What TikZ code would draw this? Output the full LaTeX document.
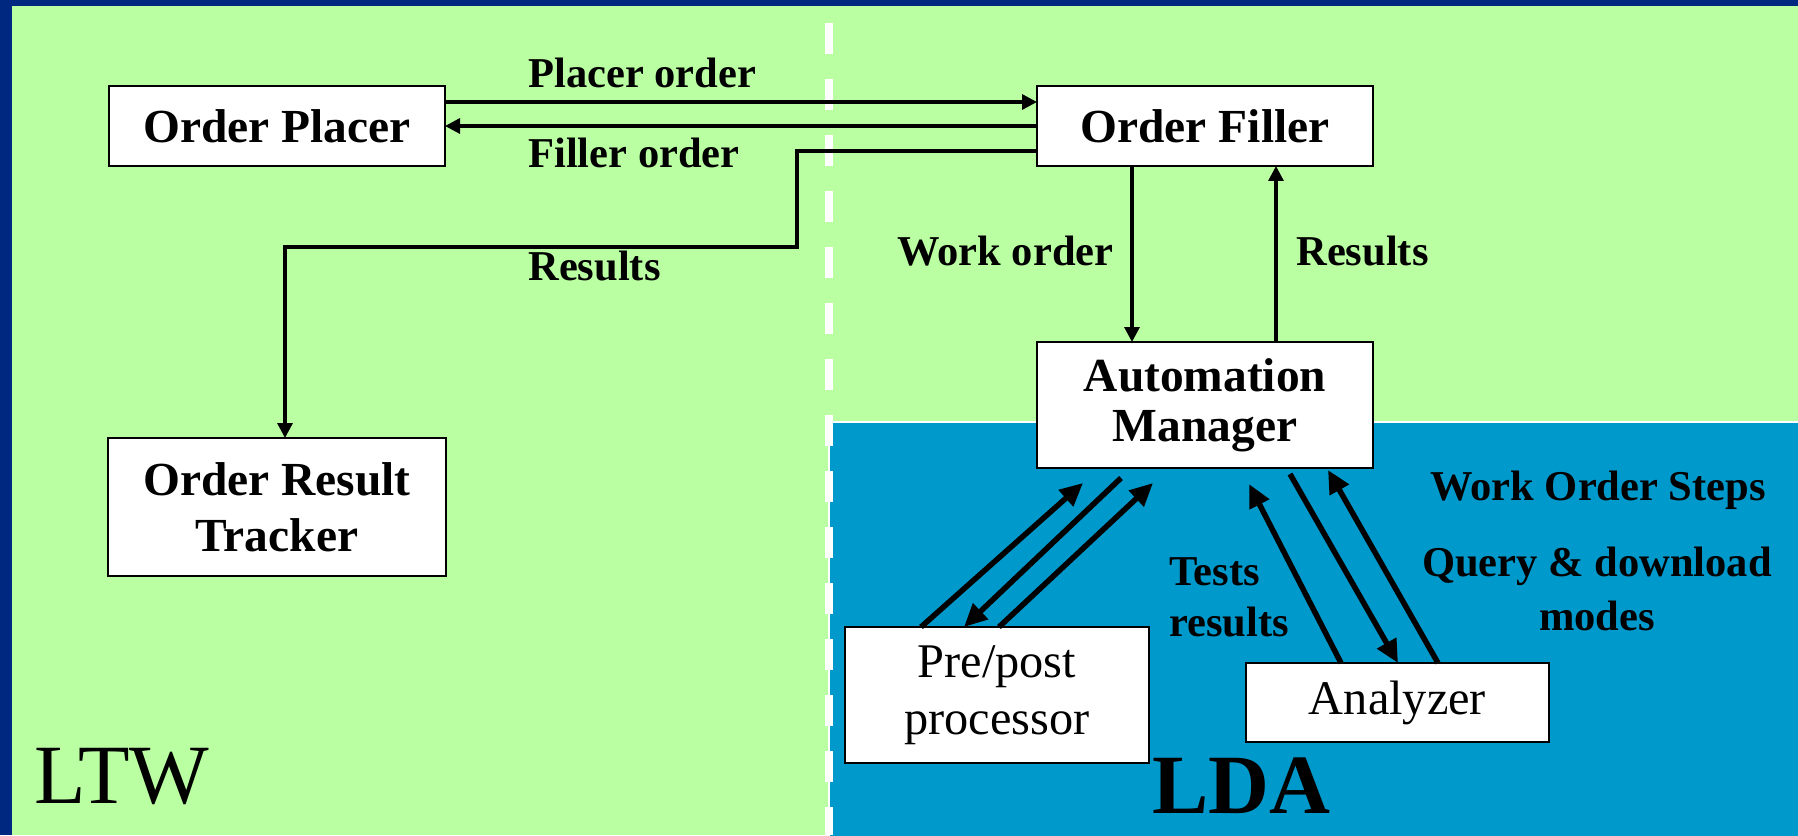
\documentclass[tikz,border=0pt]{standalone}
\usepackage{fontspec}
\setmainfont{Liberation Serif}
\usetikzlibrary{positioning, arrows.meta}

\definecolor{framenavy}{RGB}{0,40,128}
\definecolor{ltwgreen}{RGB}{187,255,163}
\definecolor{ldablue}{RGB}{0,153,204}

\begin{document}
\begin{tikzpicture}[
    box/.style={draw, line width=0.04cm, fill=white, align=center, inner sep=0pt, outer sep=0pt, font=\bfseries\fontsize{27}{32}\selectfont},
    plainbox/.style={box, font=\fontsize{27.5}{32.5}\selectfont},
    arrow/.style={-{Triangle[length=0.3cm, width=0.3cm]}, line width=0.065cm},
    bigarrow/.style={-{Triangle[length=0.46cm, width=0.42cm]}, line width=0.11cm},
    lbl/.style={font=\bfseries\fontsize{24.2}{30}\selectfont, inner sep=0pt, align=left},
    region/.style={font=\fontsize{48}{48}\selectfont, inner sep=0pt, anchor=base west}
]

% Slide frame and the two domains
\clip (0,0) rectangle (35.96,16.70);
\fill[framenavy] (0,0) rectangle (35.96,16.70);
\fill[ltwgreen] (0.24,0) rectangle (35.96,16.58);
\filldraw[fill=ldablue, draw=white, line width=0.04cm] (16.58,-0.2) rectangle (36.2,8.26);
\draw[white, line width=0.16cm, dash pattern=on 0.62cm off 0.5cm] (16.58,16.24) -- (16.58,0);

% Actors
\node[box, minimum width=6.72cm, minimum height=1.6cm] (placer) at (5.54,14.18) {Order Placer};
\node[box, minimum width=6.72cm, minimum height=1.6cm, right=11.84cm of placer] (filler) {Order Filler};
\node[box, minimum width=6.76cm, minimum height=2.76cm, below=5.44cm of placer] (tracker) {Order Result\\Tracker};
\node[box, minimum width=6.72cm, minimum height=2.52cm, below=3.52cm of filler, font=\bfseries\fontsize{27}{28.5}\selectfont] (am) {Automation\\Manager};
\node[plainbox, minimum width=6.08cm, minimum height=2.72cm] (prepost) at (19.94,2.80) {Pre/post\\processor};
\node[plainbox, minimum width=6.06cm, minimum height=1.58cm] (analyzer) at (27.95,2.65) {Analyzer};

% Orders and results between LTW actors
\draw[arrow] ([yshift=-0.32cm]placer.north east) -- ([yshift=-0.32cm]filler.north west);
\draw[arrow] (filler.west) -- (placer.east);
\coordinate (bend) at (15.94,11.76);
\draw[arrow] ([yshift=0.3cm]filler.south west) -| (bend) -| ([xshift=0.16cm]tracker.north);
\draw[arrow] ([xshift=-1.46cm]filler.south) -- ([xshift=-1.46cm]am.north);
\draw[arrow] ([xshift=1.42cm]am.north) -- ([xshift=1.42cm]filler.south);

% Device side traffic
\draw[bigarrow] ([xshift=1.52cm]prepost.north west) -- ([shift={(0.92cm,-0.30cm)}]am.south west);
\draw[bigarrow] ([shift={(1.68cm,-0.20cm)}]am.south west) -- ([xshift=2.38cm]prepost.north west);
\draw[bigarrow] ([xshift=3.08cm]prepost.north west) -- ([shift={(2.32cm,-0.30cm)}]am.south west);
\draw[bigarrow] ([xshift=1.90cm]analyzer.north west) -- ([shift={(4.24cm,-0.32cm)}]am.south west);
\draw[bigarrow] ([shift={(5.06cm,-0.12cm)}]am.south west) -- ([xshift=3.04cm]analyzer.north west);
\draw[bigarrow] ([xshift=3.84cm]analyzer.north west) -- ([shift={(5.82cm,-0.04cm)}]am.south west);

% Labels (base of a two-line label is its last line)
\node[lbl, anchor=base west] (lplacer) at (10.56,14.94) {Placer order};
\node[lbl, anchor=base west] (lfiller) at (10.56,13.34) {Filler order};
\node[lbl, anchor=base west] (lresults) at (10.56,11.08) {Results};
\node[lbl, anchor=base west] (lwork) at (17.94,11.40) {Work order};
\node[lbl, anchor=base west] (lamresults) at (25.92,11.40) {Results};
\node[lbl, anchor=base west] (lsteps) at (28.60,6.70) {Work Order Steps};
\node[lbl, anchor=base, align=center, font=\bfseries\fontsize{24.2}{30.2}\selectfont] (lquery) at (31.94,4.10) {Query \& download\\modes};
\node[lbl, anchor=base west, font=\bfseries\fontsize{24.2}{29}\selectfont] (ltests) at (23.38,3.98) {Tests\\results};

% Domain names
\node[region] (ltw) at (0.68,0.64) {LTW};
\node[region, font=\bfseries\fontsize{48}{48}\selectfont] (lda) at (23.04,0.44) {LDA};

\end{tikzpicture}
\end{document}
